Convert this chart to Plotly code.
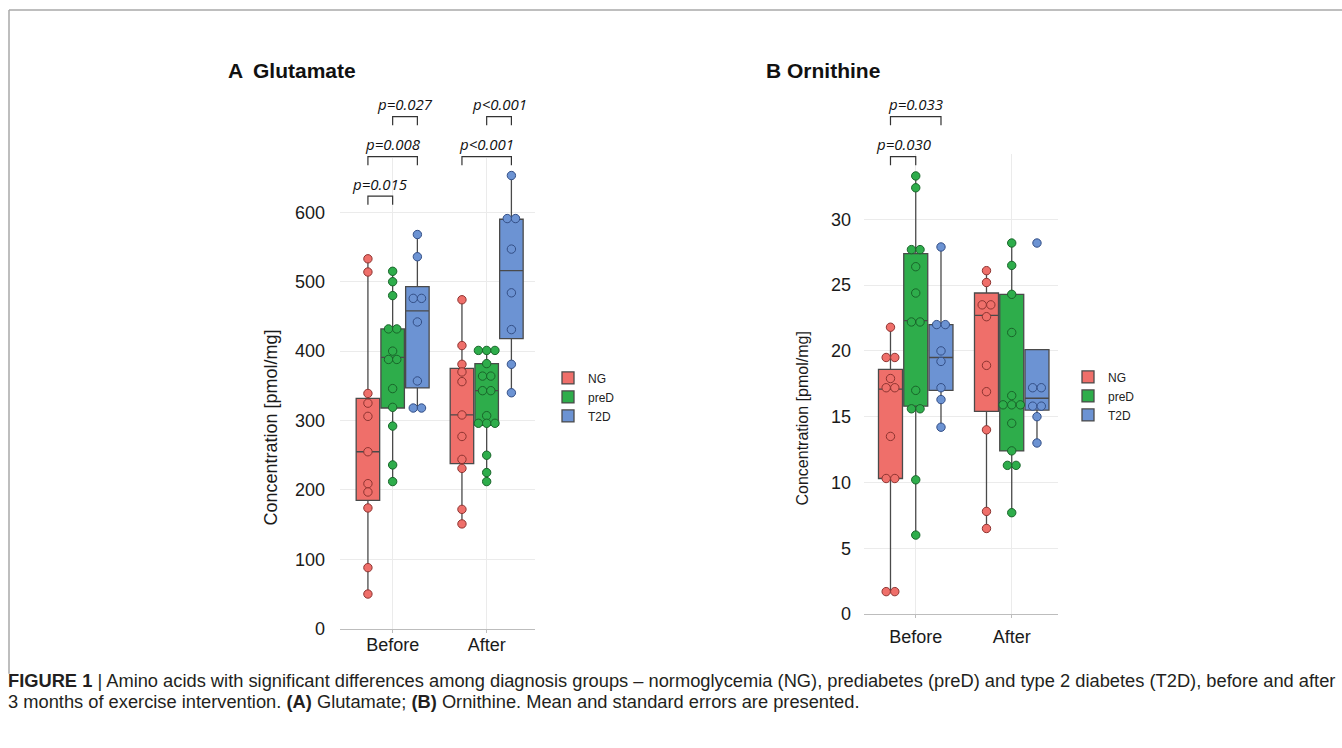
import plotly.graph_objects as go
from collections import Counter

W, H = 1342, 748

# ---------------- data ----------------
times = ["Before", "After"]
groups = ["NG", "preD", "T2D"]

# Glutamate individual values [pmol/mg]
glu_points = {
    ("NG", "Before"): [533, 514, 339, 325, 306, 255, 209, 197, 174, 88, 50],
    ("preD", "Before"): [515, 500, 480, 432, 432, 400, 388, 388, 346, 319, 292, 236, 212],
    ("T2D", "Before"): [568, 536, 476, 476, 442, 357, 318, 318],
    ("NG", "After"): [474, 408, 381, 370, 356, 308, 277, 244, 231, 172, 151],
    ("preD", "After"): [401, 401, 401, 382, 364, 364, 343, 343, 307, 296, 296, 296, 250, 225, 212],
    ("T2D", "After"): [653, 591, 591, 547, 484, 431, 381, 340],
}
# Glutamate box statistics: q1, median, q3, lower whisker, upper whisker
glu_q1 = {"NG": [185, 238], "preD": [318, 293], "T2D": [347, 418]}
glu_med = {"NG": [255, 308], "preD": [391, 343], "T2D": [458, 516]}
glu_q3 = {"NG": [332, 375], "preD": [432, 382], "T2D": [493, 590]}
glu_lo = {"NG": [50, 151], "preD": [212, 212], "T2D": [318, 340]}
glu_hi = {"NG": [533, 474], "preD": [515, 401], "T2D": [568, 653]}

# Ornithine individual values [pmol/mg]
orn_points = {
    ("NG", "Before"): [21.8, 19.5, 19.5, 17.9, 17.2, 17.2, 13.5, 10.3, 10.3, 1.7, 1.7],
    ("preD", "Before"): [33.3, 32.4, 27.7, 27.7, 26.4, 24.4, 22.2, 22.2, 17.0, 15.6, 15.6, 10.2, 6.0],
    ("T2D", "Before"): [27.9, 22.0, 22.0, 20.0, 19.2, 17.2, 16.3, 14.2],
    ("NG", "After"): [26.1, 25.2, 23.5, 23.5, 22.6, 18.9, 16.9, 14.0, 7.8, 6.5],
    ("preD", "After"): [28.2, 26.5, 24.3, 21.4, 16.6, 15.9, 15.9, 15.9, 14.5, 12.4, 11.3, 11.3, 7.7],
    ("T2D", "After"): [28.2, 17.2, 17.2, 15.8, 15.8, 15.0, 13.0],
}
orn_q1 = {"NG": [10.3, 15.4], "preD": [15.8, 12.4], "T2D": [17.0, 15.5]}
orn_med = {"NG": [17.1, 22.7], "preD": [22.3, 15.9], "T2D": [19.5, 16.4]}
orn_q3 = {"NG": [18.6, 24.4], "preD": [27.4, 24.3], "T2D": [22.0, 20.1]}
orn_lo = {"NG": [1.7, 6.5], "preD": [6.0, 7.7], "T2D": [14.2, 13.0]}
orn_hi = {"NG": [21.8, 26.1], "preD": [33.3, 28.2], "T2D": [27.9, 20.1]}

glu_ticks = [0, 100, 200, 300, 400, 500, 600]
orn_ticks = [0, 5, 10, 15, 20, 25, 30]

# significance brackets: (time, group_a, group_b, level, label)
glu_sig = [
    ("Before", "NG", "preD", 1, "p=0.015"),
    ("Before", "NG", "T2D", 2, "p=0.008"),
    ("Before", "preD", "T2D", 3, "p=0.027"),
    ("After", "NG", "T2D", 2, "p<0.001"),
    ("After", "preD", "T2D", 3, "p<0.001"),
]
orn_sig = [
    ("Before", "NG", "preD", 2, "p=0.030"),
    ("Before", "NG", "T2D", 3, "p=0.033"),
]

# ---------------- style ----------------
fill = {"NG": "#EF6F6A", "preD": "#2EAD4B", "T2D": "#6C93D3"}
edge = {"NG": "#8E3431", "preD": "#19652A", "T2D": "#344F86"}
offset = {"NG": -0.263, "preD": 0.0, "T2D": 0.263}
BOXW = 0.25
KY = 0.9855  # vertical rendering factor observed


def px(x):
    return x / W


def py(y):
    return 1 - (y / KY) / H


def dodge(vals, step):
    cnt = Counter(vals)
    seen = {}
    out = []
    for v in vals:
        n = cnt[v]
        i = seen.get(v, 0)
        seen[v] = i + 1
        out.append((i - (n - 1) / 2) * step)
    return out


fig = go.Figure()

panels = [
    dict(xa="x", ya="y", pts=glu_points, q1=glu_q1, med=glu_med, q3=glu_q3, lo=glu_lo, hi=glu_hi,
         legend="legend", step=0.088),
    dict(xa="x2", ya="y2", pts=orn_points, q1=orn_q1, med=orn_med, q3=orn_q3, lo=orn_lo, hi=orn_hi,
         legend="legend2", step=0.09),
]

for p in panels:
    for g in groups:
        xs = [ti + offset[g] for ti in range(len(times))]
        fig.add_trace(go.Box(
            x=xs, q1=p["q1"][g], median=p["med"][g], q3=p["q3"][g],
            lowerfence=p["lo"][g], upperfence=p["hi"][g],
            width=BOXW, name=g, fillcolor=fill[g],
            line=dict(color="#4A4A4A", width=1.3), whiskerwidth=0,
            boxpoints=False, xaxis=p["xa"], yaxis=p["ya"],
            legend=p["legend"], showlegend=True, hoverinfo="skip",
        ))
    for g in groups:
        xs, ys = [], []
        for ti, t in enumerate(times):
            vals = p["pts"][(g, t)]
            for v, d in zip(vals, dodge(vals, p["step"])):
                xs.append(ti + offset[g] + d)
                ys.append(v)
        fig.add_trace(go.Scatter(
            x=xs, y=ys, mode="markers", showlegend=False,
            marker=dict(size=8.4, color=fill[g], line=dict(color=edge[g], width=1)),
            xaxis=p["xa"], yaxis=p["ya"], cliponaxis=False, hoverinfo="skip",
        ))

# axis geometry (pixels)
A_dom_x = (340, 535)
A_dom_y = (158, 628)
B_dom_x = (864, 1058)
B_dom_y = (153.4, 613.3)
A_range_y = [0, 678]
B_range_y = [0, 35]

common_x = dict(tickvals=[0, 1], ticktext=times, showgrid=True, gridcolor="#EBEBEB", gridwidth=1,
                showline=True, linecolor="#BDBDBD", linewidth=1, zeroline=False,
                ticks="outside", ticklen=3, tickcolor="#BDBDBD",
                tickfont=dict(family="Liberation Sans, Arial", size=18, color="#1A1A1A"))
common_y = dict(showgrid=True, gridcolor="#EBEBEB", gridwidth=1, zeroline=False, showline=False,
                ticks="", tickfont=dict(family="Liberation Sans, Arial", size=18, color="#1A1A1A"))

fig.update_layout(
    width=W, height=H, margin=dict(l=0, r=0, t=0, b=0),
    paper_bgcolor="white", plot_bgcolor="white", boxmode="overlay",
    xaxis=dict(domain=[px(A_dom_x[0]), px(A_dom_x[1])], range=[-0.56, 1.514], anchor="y",
               ticklabelstandoff=-3, **common_x),
    yaxis=dict(domain=[py(A_dom_y[1]), py(A_dom_y[0])], range=A_range_y, tickvals=glu_ticks,
               anchor="x", ticklabelstandoff=14, **common_y),
    xaxis2=dict(domain=[px(B_dom_x[0]), px(B_dom_x[1])], range=[-0.539, 1.482], anchor="y2",
                ticklabelstandoff=3, **common_x),
    yaxis2=dict(domain=[py(B_dom_y[1]), py(B_dom_y[0])], range=B_range_y, tickvals=orn_ticks,
                anchor="x2", ticklabelstandoff=12, **common_y),
    legend=dict(x=px(548), y=py(363), xanchor="left", yanchor="top", traceorder="normal",
                font=dict(family="Liberation Sans, Arial", size=12, color="#222"),
                bgcolor="rgba(0,0,0,0)", tracegroupgap=0),
    legend2=dict(x=px(1068), y=py(362), xanchor="left", yanchor="top", traceorder="normal",
                 font=dict(family="Liberation Sans, Arial", size=12, color="#222"),
                 bgcolor="rgba(0,0,0,0)", tracegroupgap=0),
)

# significance brackets
bracket_px = {1: 196, 2: 156.5, 3: 116.5}
shapes = []
annos = []
for sigs, xa in ((glu_sig, "x"), (orn_sig, "x2")):
    for t, ga, gb, lvl, lab in sigs:
        ti = times.index(t)
        xa_ = ti + offset[ga]
        xb_ = ti + offset[gb]
        ytop = bracket_px[lvl]
        shapes.append(dict(type="path", xref=xa, yref="paper",
                           path=f"M {xa_},{py(ytop + 8.5)} L {xa_},{py(ytop)} L {xb_},{py(ytop)} L {xb_},{py(ytop + 8.5)}",
                           line=dict(color="#333", width=1.2)))
        annos.append(dict(x=(xa_ + xb_) / 2, xref=xa, y=py(ytop - 12.5), yref="paper", text=f"<i>{lab}</i>",
                          showarrow=False, xanchor="center", yanchor="middle",
                          font=dict(family="Open Sans, Liberation Sans", size=15, color="#111")))

# figure frame
shapes.append(dict(type="line", xref="paper", yref="paper", x0=px(9), x1=px(1342), y0=py(10), y1=py(10),
                   line=dict(color="#A8A8A8", width=1.5)))
shapes.append(dict(type="line", xref="paper", yref="paper", x0=px(9), x1=px(9), y0=py(10), y1=py(673),
                   line=dict(color="#A8A8A8", width=1.5)))

title_font = dict(family="Liberation Sans, Arial", size=21, color="#111")
for x, txt in ((226, "A"), (251, "Glutamate"), (764, "B"), (785, "Ornithine")):
    annos.append(dict(x=px(x), y=py(70), xref="paper", yref="paper", text=f"<b>{txt}</b>",
                      showarrow=False, xanchor="left", yanchor="middle", font=title_font))

annos.append(dict(x=px(271), y=py(427), xref="paper", yref="paper", text="Concentration [pmol/mg]",
                  textangle=-90, showarrow=False, xanchor="center", yanchor="middle",
                  font=dict(family="Liberation Sans, Arial", size=18, color="#1A1A1A")))
annos.append(dict(x=px(802), y=py(418), xref="paper", yref="paper", text="Concentration [pmol/mg]",
                  textangle=-90, showarrow=False, xanchor="center", yanchor="middle",
                  font=dict(family="Liberation Sans, Arial", size=16, color="#1A1A1A")))

cap_font = dict(family="Liberation Sans, Arial", size=18.3, color="#231F20")
annos.append(dict(x=px(6), y=py(680), xref="paper", yref="paper", xanchor="left", yanchor="middle",
                  showarrow=False, font=cap_font, align="left",
                  text="<b>FIGURE 1</b> | Amino acids with significant differences among diagnosis groups – normoglycemia (NG), "
                       "prediabetes (preD) and type 2 diabetes (T2D), before and after"))
annos.append(dict(x=px(6), y=py(701), xref="paper", yref="paper", xanchor="left", yanchor="middle",
                  showarrow=False, font=cap_font, align="left",
                  text="3 months of exercise intervention. <b>(A)</b> Glutamate; <b>(B)</b> Ornithine. "
                       "Mean and standard errors are presented."))

fig.update_layout(shapes=shapes, annotations=annos)

fig.write_html("out.html", config={"displayModeBar": False},
               post_script="document.body.style.margin='0';document.body.style.overflow='hidden';")
